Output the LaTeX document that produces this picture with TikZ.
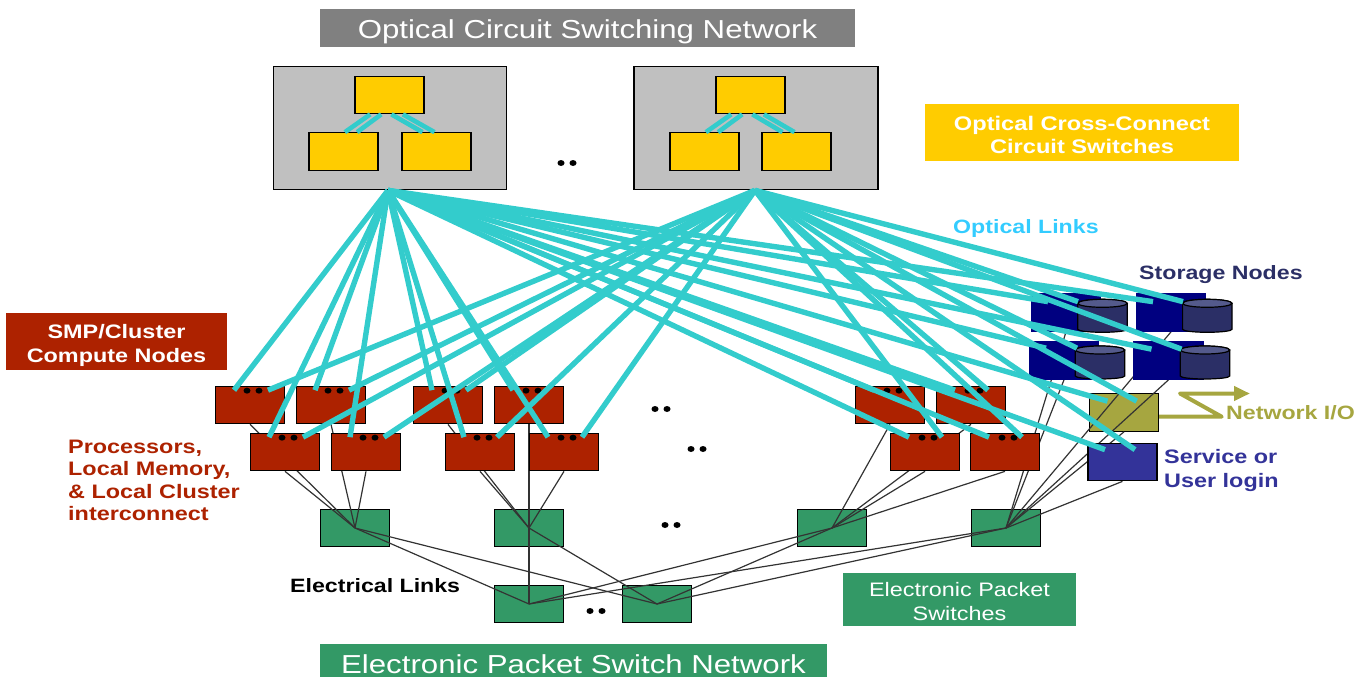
\documentclass[tikz,border=0pt]{standalone}
\usepackage{fontspec}
\setmainfont[FakeStretch=1.2]{Liberation Sans}
\usetikzlibrary{calc, arrows.meta}
\definecolor{optCyan}{HTML}{33CCCC}
\definecolor{lblCyan}{HTML}{33CCFF}
\definecolor{swGray}{HTML}{C0C0C0}
\definecolor{ttlGray}{HTML}{808080}
\definecolor{oxcYellow}{HTML}{FFCC00}
\definecolor{cpuRed}{HTML}{AD2200}
\definecolor{pktGreen}{HTML}{339966}
\definecolor{stoBlue}{HTML}{000080}
\definecolor{diskBody}{HTML}{2B2F66}
\definecolor{diskTop}{HTML}{545A8C}
\definecolor{netOlive}{HTML}{A6A640}
\definecolor{svcBlue}{HTML}{333399}
\definecolor{wireGray}{HTML}{333333}
\pgfdeclarelayer{back}
\pgfdeclarelayer{wires}
\pgfsetlayers{back,wires,main}
\tikzset{
  unitbox/.style={draw=black, line width=1.2pt, minimum width=69pt, minimum height=37.5pt, inner sep=0pt},
  oxc/.style={unitbox, fill=oxcYellow},
  cpu/.style={unitbox, fill=cpuRed},
  pkt/.style={unitbox, fill=pktGreen},
  sto/.style={unitbox, fill=stoBlue, draw=stoBlue},
  optlink/.style={optCyan, line width=5.4pt},
  inlink/.style={optCyan, line width=4.6pt},
  wire/.style={wireGray, line width=1.2pt},
  banner/.style={inner sep=0pt},
  bantext/.style={inner sep=0pt, text=white, align=center},
  lbl/.style={inner sep=0pt, align=left, font=\bfseries\fontsize{19.3}{23}\selectfont},
  blackdot/.style={black, x radius=3.5pt, y radius=3pt},
  pics/disk/.style={code={
      \draw[fill=diskBody, line width=1.2pt] (-24.7,-12.5) -- (-24.7,13.5) arc[start angle=180, end angle=360, x radius=24.7pt, y radius=3pt] -- (24.7,-12.5) arc[start angle=0, end angle=180, x radius=24.7pt, y radius=4pt] -- cycle;
      \draw[fill=diskTop, line width=1.2pt] (0,-12.5) ellipse[x radius=24.7pt, y radius=4pt];
  }}
}
\begin{document}
\begin{tikzpicture}[x=1pt, y=-1pt]
    \useasboundingbox (0,0) rectangle (1366,677);

    % Banners
    \node[banner, fill=ttlGray, minimum width=535pt, minimum height=38pt] (ocsTitle) at (587.5,28) {};
    \node[bantext, font=\fontsize{26}{30}\selectfont] (ocsText) at ($(ocsTitle)+(0,3.5)$) {Optical Circuit Switching Network};
    \node[banner, fill=pktGreen, minimum width=507pt, minimum height=33pt] (epsTitle) at (573.5,660.5) {};
    \node[bantext, font=\fontsize{26}{30}\selectfont] (epsText) at ($(epsTitle)+(0,3.5)$) {Electronic Packet Switch Network};
    \node[banner, fill=oxcYellow, minimum width=314pt, minimum height=57pt] (oxcTitle) at (1082,132.5) {};
    \node[bantext, font=\bfseries\fontsize{19.7}{23}\selectfont] (oxcText) at ($(oxcTitle)+(0,2)$) {Optical Cross-Connect\\Circuit Switches};
    \node[banner, fill=cpuRed, minimum width=221pt, minimum height=57pt] (cpuTitle) at (116.5,341.5) {};
    \node[bantext, font=\bfseries\fontsize{19.5}{24}\selectfont] (cpuText) at ($(cpuTitle)+(0,4)$) {SMP/Cluster\\Compute Nodes};
    \node[banner, fill=pktGreen, minimum width=233pt, minimum height=53pt] (pktTitle) at (959.5,599.5) {};
    \node[bantext, font=\fontsize{19.5}{24}\selectfont] (pktText) at ($(pktTitle)+(0,2)$) {Electronic Packet\\Switches};

    % Labels
    \node[lbl, anchor=west, text=lblCyan] (optLbl) at (953,229) {Optical Links};
    \node[lbl, anchor=west, text=diskBody] (stoLbl) at (1139,274.5) {Storage Nodes};
    \node[lbl, anchor=west, text=netOlive] (netLbl) at (1226,413) {Network I/O};
    \node[lbl, anchor=west, text=svcBlue, font=\bfseries\fontsize{19.5}{24}\selectfont] (svcLbl) at (1164,470) {Service or\\User login};
    \node[lbl, anchor=west, text=cpuRed, font=\bfseries\fontsize{19.5}{22.4}\selectfont] (cpuLbl) at (68,480.5) {Processors,\\Local Memory,\\\& Local Cluster\\interconnect};
    \node[lbl, anchor=west, text=black] (elecLbl) at (290,586) {Electrical Links};

    % Optical switches
    \foreach \nm/\xpos/\wid in {o1/390/233.5, o2/756/244}
        \node[draw=black, line width=1.3pt, fill=swGray, minimum width=\wid pt, minimum height=123.5pt, inner sep=0pt] (\nm) at (\xpos,128) {};
    \coordinate (ap1) at ($(o1.south)+(-2,0)$);
    \coordinate (ap2) at ($(o2.south)+(-1,0)$);
    \foreach \nm/\xpos/\ypos in {y1/389.5/95, y2/343.5/151.5, y3/436.5/151.5, y4/750.5/95, y5/704.5/151.5, y6/796.5/151.5}
        \node[oxc] (\nm) at (\xpos,\ypos) {};
    \foreach \up/\low in {y1/y2, y4/y5}
        \foreach \ox/\oy in {-19.3/1.4, -8.3/13.6}
            \draw[inlink] ($(\up.south)+(\ox,0)$) -- ($(\low.north)+(\oy,0)$);
    \foreach \up/\low in {y1/y3, y4/y6}
        \foreach \ox/\oy in {1.9/-14, 13.4/-2}
            \draw[inlink] ($(\up.south)+(\ox,0)$) -- ($(\low.north)+(\oy,0)$);

    % Compute nodes
    \foreach \nm/\xpos in {r1/250, r2/331, r3/448, r4/529, r5/890, r6/971}
        \node[cpu] (\nm) at (\xpos,405) {};
    \foreach \nm/\xpos in {r7/285, r8/366, r9/480, r10/564, r11/925, r12/1005}
        \node[cpu] (\nm) at (\xpos,452) {};
    \foreach \nm in {r1,r2,r3,r4,r5,r6,r7,r8,r9,r10,r11,r12} {
        \fill[blackdot] ($(\nm.north)+(-3,5)$) ellipse[];
        \fill[blackdot] ($(\nm.north)+(9,5)$) ellipse[];
    }

    % Storage, I/O, login
    \foreach \nm/\xpos/\ypos in {s1/1066/312.5, s2/1171/312.5, s3/1064/360.5, s4/1168.5/360.5}
        \node[sto] (\nm) at (\xpos,\ypos) {};
    \foreach \nm/\xpos/\ypos in {d1/1102.5/315.8, d2/1207.3/315.8, d3/1100/362.5, d4/1205/362.5}
        \pic (\nm) at (\xpos,\ypos) {disk};
    \node[unitbox, fill=svcBlue] (svc) at (1122.5,462) {};
    \begin{pgfonlayer}{back}
        \node[unitbox, fill=netOlive] (net) at (1124,412.5) {};
    \end{pgfonlayer}

    % Packet switches
    \begin{pgfonlayer}{back}
        \foreach \nm/\xpos in {g1/355, g2/529, g3/832, g4/1006}
            \node[pkt] (\nm) at (\xpos,528) {};
        \foreach \nm/\xpos in {b1/529, b2/657}
            \node[pkt] (\nm) at (\xpos,604) {};
    \end{pgfonlayer}

    % Electrical links
    \begin{pgfonlayer}{wires}
        \foreach \sw/\lst in {g1/{r1,r2,r7,r8}, g2/{r3,r4,r9,r10}, g3/{r5,r6,r11,r12}, g4/{s1,s2,s3,s4,net,svc}}
            \foreach \nd in \lst
                \draw[wire] (\nd.south) -- (\sw.center);
        \foreach \sw in {g1,g2,g3,g4} {
            \draw[wire] (\sw.center) -- (b1.center);
            \draw[wire] (\sw.center) -- (b2.center);
        }
    \end{pgfonlayer}

    % Optical links
    \foreach \nd/\ox/\oy in {r1/-16/4.5, r2/-16/4.5, r3/-16/4.5, r4/-16/4.5, r5/-16/4.5, r6/-16/4.5, r7/-16/4.5, r8/-16/4.5, r9/-16/4.5, r10/-16/4.5, r11/-16/4.5, r12/-16/4.5, s1/-18/8.5, s2/-18/8.5, s3/-18/7, s4/-17/8, net/-16.5/8, svc/-17.5/7}
        \draw[optlink] (ap1) -- ($(\nd.north)+(\ox,\oy)$);
    \foreach \nd/\ox/\oy in {r1/18/4.5, r2/18/4.5, r3/18/4.5, r6/17/4.5, r7/18/4.5, r8/18/4.5, r9/17/4.5, r10/18/4.5, r11/17/4.5, r12/17/4.5, s1/12/8.5, s2/12/8.5, s3/13/7, s4/13/8, net/12.7/8, svc/12.5/7}
        \draw[optlink] (ap2) -- ($(\nd.north)+(\ox,\oy)$);

    % Network I/O arrow
    \coordinate (netZ) at ($(net.east)+(0,4.2)$);
    \coordinate (netA) at (1221.7,416.7);
    \coordinate (netB) at (1180,393.5);
    \coordinate (netC) at (1250,393.5);
    \draw[netOlive, line width=4pt, line join=round, -{Triangle[length=16pt,width=14pt]}] (netZ) -- (netA) -- (netB) -- (netC);

    % Dots
    \foreach \xpos/\ypos in {561/163, 655/409, 691/449, 665/525, 590/611}  {
        \fill[blackdot] (\xpos,\ypos) ellipse[];
        \fill[blackdot] (\xpos+12,\ypos) ellipse[];
    }
\end{tikzpicture}
\end{document}
